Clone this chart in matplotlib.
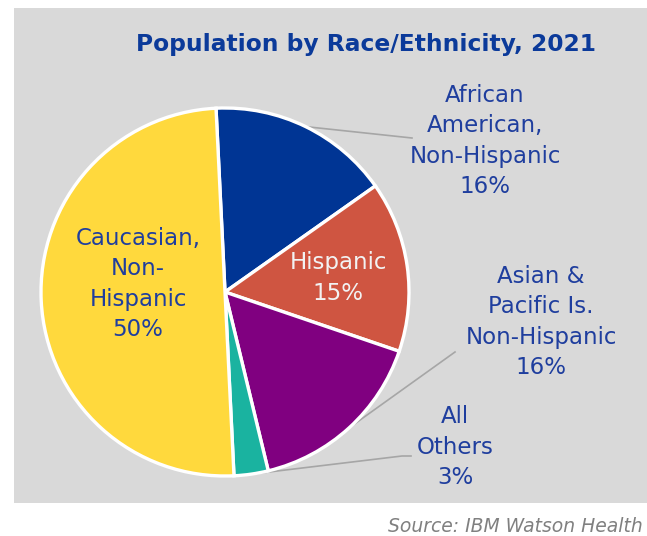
import matplotlib
matplotlib.use("Agg")
import matplotlib.pyplot as plt
from matplotlib.patches import Rectangle
import numpy as np

# Population share by race/ethnicity (percent), clockwise from the top
groups = ["African American, Non-Hispanic", "Hispanic",
          "Asian & Pacific Is. Non-Hispanic", "All Others",
          "Caucasian, Non-Hispanic"]
shares = [16, 15, 16, 3, 50]
colors = ["#003594", "#CF5541", "#800080", "#1AB3A0", "#FFD93D"]

# Label text shown on / beside each slice
label_lines = [
    ["African", "American,", "Non-Hispanic"],
    ["Hispanic"],
    ["Asian &", "Pacific Is.", "Non-Hispanic"],
    ["All", "Others"],
    ["Caucasian,", "Non-", "Hispanic"],
]

W, H = 647, 536
fig = plt.figure(figsize=(W / 100, H / 100), dpi=100)
ax = fig.add_axes([0, 0, 1, 1])

# grey panel behind the chart
ax.add_patch(Rectangle((14, H - 503), W - 14, 495, facecolor="#D9D9D9",
                       edgecolor="none", zorder=0))

cx, cy, r = 225, H - 292, 184
wedges, _ = ax.pie(shares, colors=colors, startangle=92.8, counterclock=False,
                   center=(cx, cy), radius=r,
                   wedgeprops=dict(edgecolor="white", linewidth=2.4))
for w in wedges:
    w.set_zorder(2)

ax.set_xlim(0, W)
ax.set_ylim(0, H)
ax.set_aspect("equal")
ax.axis("off")

label_color = "#1F3E9E"
fs = 16.5
ls = 1.4

def lbl(i):
    return "\n".join(label_lines[i] + [f"{shares[i]}%"])

# labels inside the pie
ax.text(138, H - 284, lbl(4), ha="center", va="center", fontsize=fs,
        color=label_color, linespacing=ls, zorder=3)
ax.text(338, H - 278, lbl(1), ha="center", va="center", fontsize=fs,
        color="#F2F2F2", linespacing=ls, zorder=3)

# outside labels with leader lines from the slice midpoints
outside = [
    (0, (485, 141), [(412, 138)]),
    (2, (541, 322), [(455, 352)]),
    (3, (455, 447), [(402, 456), (411, 456)]),
]
for i, (tx, ty), path in outside:
    ax.text(tx, H - ty, lbl(i), ha="center", va="center", fontsize=fs,
            color=label_color, linespacing=ls, zorder=3)
    w = wedges[i]
    mid = np.deg2rad((w.theta1 + w.theta2) / 2)
    xs = [cx + r * np.cos(mid)] + [p[0] for p in path]
    ys = [cy + r * np.sin(mid)] + [H - p[1] for p in path]
    ax.plot(xs, ys, color="#A6A6A6", linewidth=1.2, zorder=1.5)

ax.text(366, H - 45, "Population by Race/Ethnicity, 2021", ha="center",
        va="center", fontsize=16.8, fontweight="bold", color="#0B3A9A",
        zorder=3)

ax.text(388, H - 526, "Source: IBM Watson Health", ha="left", va="center",
        fontsize=13.5, style="italic", color="#808080")

fig.savefig("out.png", dpi=100)
